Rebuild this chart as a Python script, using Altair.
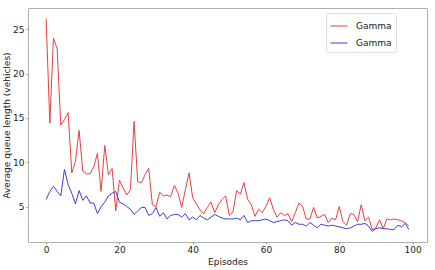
import altair as alt
import pandas as pd

episodes = list(range(100))

red_values = [
    26.2, 14.4, 24.0, 22.8, 14.2, 14.8, 15.6, 8.8, 10.1, 13.6,
    9.0, 8.7, 8.7, 9.5, 11.0, 6.7, 11.9, 8.6, 9.3, 4.5,
    8.0, 7.1, 6.3, 6.9, 14.6, 7.8, 7.7, 8.6, 9.3, 5.2,
    5.0, 6.6, 6.2, 6.3, 6.1, 7.4, 6.5, 4.9, 6.9, 8.8,
    6.0, 5.3, 4.6, 4.2, 4.9, 5.5, 4.3, 5.2, 5.8, 6.2,
    4.0, 4.4, 6.8, 6.4, 7.7, 5.8, 5.2, 3.9, 4.7, 4.3,
    5.0, 6.0, 4.7, 3.8, 4.3, 4.0, 4.2, 3.3, 4.3, 5.4,
    5.0, 3.6, 3.6, 4.9, 3.7, 3.9, 4.1, 3.2, 3.7, 3.5,
    5.0, 3.3, 2.9, 4.2, 4.1, 3.3, 5.2, 3.4, 3.8, 2.4,
    2.6, 3.5, 2.5, 3.6, 3.5, 3.6, 3.5, 3.4, 3.2, 2.8,
]

blue_values = [
    5.8, 6.7, 7.3, 6.7, 6.2, 9.2, 7.5, 6.5, 5.3, 6.8,
    5.7, 6.2, 5.4, 5.4, 4.2, 5.0, 5.5, 6.2, 6.5, 6.7,
    5.5, 5.3, 5.0, 4.7, 4.1, 4.5, 4.9, 4.9, 4.0, 4.2,
    4.9, 3.9, 4.3, 3.6, 4.0, 4.1, 4.1, 3.8, 4.2, 3.5,
    3.8, 3.5, 4.0, 3.7, 3.5, 3.8, 4.1, 3.9, 3.7, 3.6,
    3.6, 3.6, 3.7, 3.5, 4.0, 3.2, 3.4, 3.4, 3.4, 3.5,
    3.6, 3.4, 3.2, 3.3, 3.4, 3.5, 3.4, 2.9, 3.2, 3.0,
    3.0, 2.8, 3.2, 2.9, 2.6, 3.0, 2.9, 2.8, 2.9, 2.8,
    2.7, 2.6, 2.5, 2.6, 2.8, 3.0, 3.0, 3.1, 2.8, 2.2,
    2.5, 2.6, 2.5, 2.5, 2.4, 2.4, 2.9, 2.7, 3.1, 2.4,
]

series_keys = ["s1", "s2"]
series_labels = ["Gamma", "Gamma"]
series_colors = ["#e8403f", "#3f3fcf"]

x_ticks = [0, 20, 40, 60, 80, 100]
y_ticks = [5, 10, 15, 20, 25]

rows = []
for key, vals in zip(series_keys, [red_values, blue_values]):
    for e, v in zip(episodes, vals):
        rows.append({"episode": e, "value": v, "series": key})
df = pd.DataFrame(rows)

label_map = "{" + ",".join(f"'{k}':'{l}'" for k, l in zip(series_keys, series_labels)) + "}"

FONT = "DejaVu Sans"
common_axis = dict(grid=False, domain=False, tickSize=2, tickColor="#999999",
                   labelFontSize=9, labelColor="#222222", titleFontSize=9,
                   titleFontWeight="normal", titleColor="#222222",
                   labelFont=FONT, titleFont=FONT)

chart = alt.Chart(df).mark_line(strokeWidth=1).encode(
    x=alt.X("episode:Q",
            scale=alt.Scale(domain=[-4.95, 103.95], nice=False, zero=False),
            axis=alt.Axis(values=x_ticks, title="Episodes", labelPadding=1,
                          titlePadding=3, **common_axis)),
    y=alt.Y("value:Q",
            scale=alt.Scale(domain=[1.0, 27.4], nice=False, zero=False),
            axis=alt.Axis(values=y_ticks, title="Average queue length (vehicles)",
                          labelPadding=2, titlePadding=1, **common_axis)),
    color=alt.Color("series:N",
                    scale=alt.Scale(domain=series_keys, range=series_colors),
                    legend=alt.Legend(title=None, orient="none", legendX=298, legendY=5,
                                      symbolType="stroke", symbolSize=289, symbolStrokeWidth=1,
                                      labelFontSize=9, labelFont=FONT,
                                      labelColor="#222222", labelExpr=f"{label_map}[datum.value]",
                                      fillColor="white", strokeColor="#dddddd",
                                      cornerRadius=2, padding=4, rowPadding=3,
                                      labelOffset=8)),
).properties(
    width=399, height=234,
    autosize=alt.AutoSizeParams(type="none"),
    padding={"left": 28, "top": 8, "right": 8, "bottom": 28},
    background="white",
).configure_view(
    stroke="#b0b0b0", strokeWidth=1
)

chart.save("out.html", embed_options={"renderer": "svg", "actions": False})
